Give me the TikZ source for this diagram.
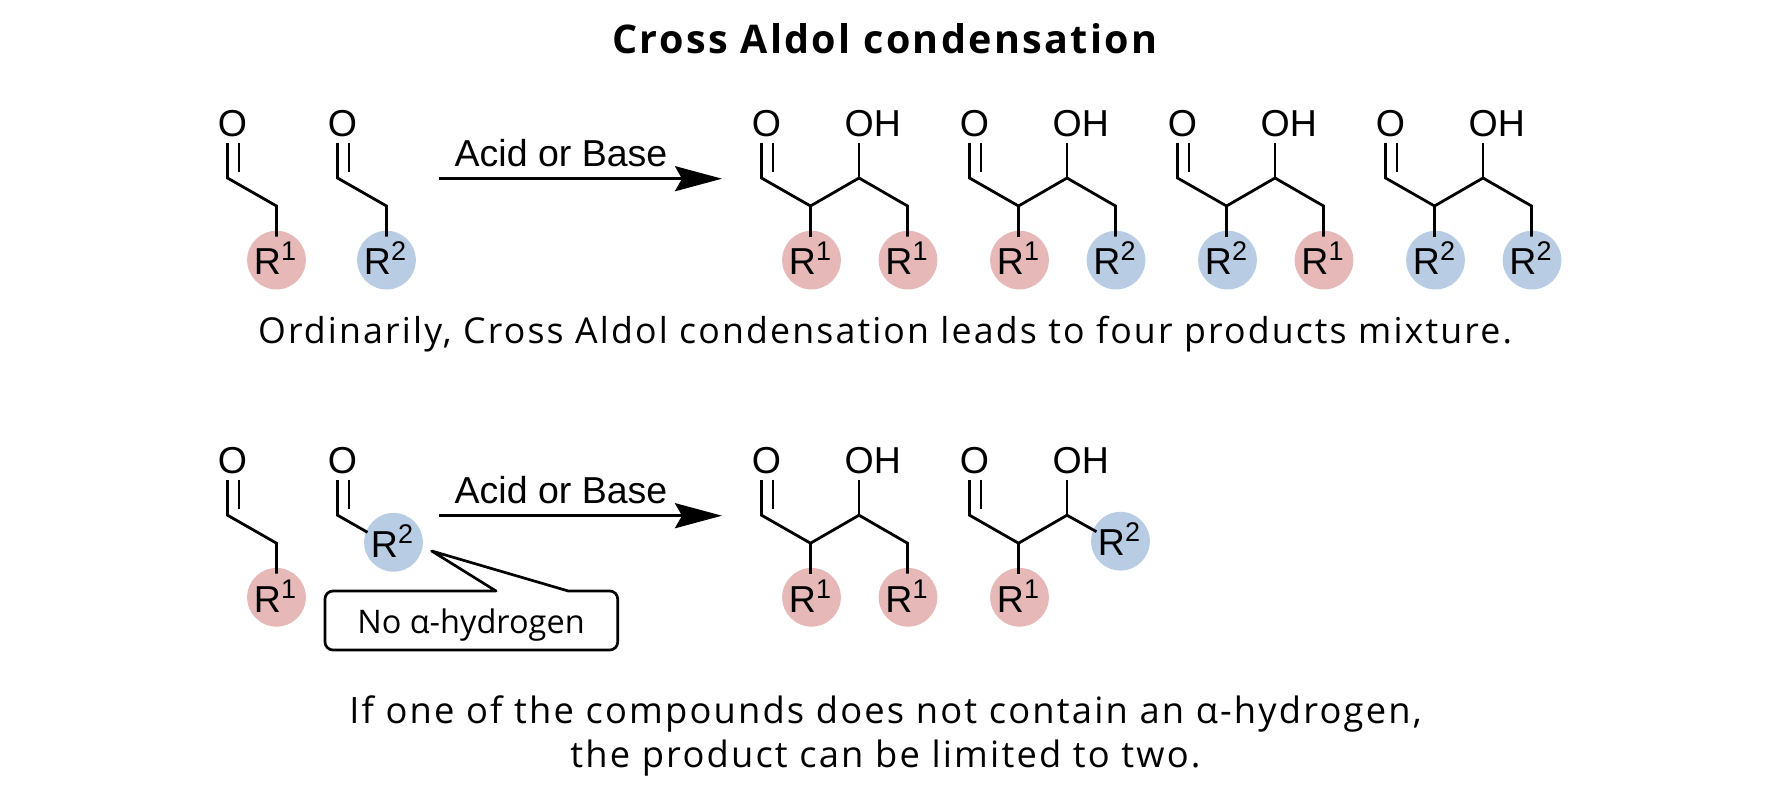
\documentclass[tikz,border=0pt]{standalone}
\usepackage{fontspec}
\usetikzlibrary{arrows.meta}
\setmainfont{Open Sans}
\newfontfamily\chemfont{Liberation Sans}
\newfontfamily\capfont[LetterSpace=6]{Open Sans}
\definecolor{redR}{HTML}{E6B8B7}
\definecolor{blueR}{HTML}{B8CCE4}
\newcommand{\chemtext}{\chemfont\fontsize{37.5}{40}\selectfont}
\newcommand{\Rsub}[1]{R\raisebox{14pt}{\fontsize{27}{27}\selectfont #1}\kern3pt}
\tikzset{
  bond/.style={line width=2.8pt,line join=miter},
  atom/.style={inner sep=0pt,font=\chemtext},
  Rone/.style={circle,fill=redR,minimum size=58.7pt,inner sep=0pt,font=\chemtext,text height=29.5pt,text depth=0pt,node contents={\Rsub{1}}},
  Rtwo/.style={circle,fill=blueR,minimum size=58.7pt,inner sep=0pt,font=\chemtext,text height=29.5pt,text depth=0pt,node contents={\Rsub{2}}},
  caption/.style={inner sep=0pt,anchor=base,align=center,font=\capfont\fontsize{36.3}{45}\selectfont},
}
\begin{document}
\begin{tikzpicture}[x=1pt,y=-1pt]
\useasboundingbox (0,0) rectangle (1772,798);

\node[inner sep=0pt,anchor=base,font=\capfont\bfseries\fontsize{39.5}{44}\selectfont] (title) at (885,53.5) {Cross Aldol condensation};

% top row, reactants
\foreach \px/\st/\n in {232.5/Rone/a,342.5/Rtwo/b} {
\begin{scope}[shift={(\px,123.5)}]
  \node (\n R) at (44,136.6) [\st];
  \node[atom] (\n O) at (0,0) {O};
  \coordinate (\n d) at (-5,19.5);
  \coordinate (\n e) at (6.5,19.5);
  \coordinate (\n f) at (6.5,48.5);
  \coordinate (\n c) at (-5,54.5);
  \coordinate (\n g) at (44,82.5);
  \coordinate (\n h) at (44,113);
  \draw[bond] (\n d) -- (\n c) -- (\n g) -- (\n h);
  \draw[bond] (\n e) -- (\n f);
\end{scope}
}
% top row, four products
\foreach \px/\sta/\stb/\n in {766.5/Rone/Rone/p,974.5/Rone/Rtwo/q,1182.5/Rtwo/Rone/r,1390.5/Rtwo/Rtwo/s} {
\begin{scope}[shift={(\px,123.5)}]
  \node (\n Ra) at (45,136.6) [\sta];
  \node (\n Rb) at (141.5,136.6) [\stb];
  \node[atom] (\n O) at (0,0) {O};
  \node[atom,anchor=west] (\n OH) at (78,0) {OH};
  \coordinate (\n d) at (-5,19.5);
  \coordinate (\n e) at (6.5,19.5);
  \coordinate (\n f) at (6.5,48.5);
  \coordinate (\n c) at (-5,54.5);
  \coordinate (\n g) at (44,82.5);
  \coordinate (\n h) at (44,113);
  \coordinate (\n i) at (92.5,54.5);
  \coordinate (\n j) at (92.5,19.5);
  \coordinate (\n k) at (141,82.5);
  \coordinate (\n l) at (141,113);
  \draw[bond] (\n d) -- (\n c) -- (\n g) -- (\n i) -- (\n k) -- (\n l);
  \draw[bond] (\n e) -- (\n f);
  \draw[bond] (\n g) -- (\n h);
  \draw[bond] (\n i) -- (\n j);
\end{scope}
}

% bottom row, reactants
\begin{scope}[shift={(232.5,460.7)}]
  \node (cR) at (44,136.6) [Rone];
  \node[atom] (cO) at (0,0) {O};
  \coordinate (cd) at (-5,19.5);
  \coordinate (ce) at (6.5,19.5);
  \coordinate (cf) at (6.5,48.5);
  \coordinate (cc) at (-5,54.5);
  \coordinate (cg) at (44,82.5);
  \coordinate (ch) at (44,113);
  \draw[bond] (cd) -- (cc) -- (cg) -- (ch);
  \draw[bond] (ce) -- (cf);
\end{scope}
\begin{scope}[shift={(342.5,460.7)}]
  \node (dR) at (51,81.6) [Rtwo];
  \node[atom] (dO) at (0,0) {O};
  \coordinate (dd) at (-5,19.5);
  \coordinate (de) at (6.5,19.5);
  \coordinate (df) at (6.5,48.5);
  \coordinate (dc) at (-5,54.5);
  \coordinate (dg) at (25,71.6);
  \draw[bond] (dd) -- (dc) -- (dg);
  \draw[bond] (de) -- (df);
\end{scope}
% bottom row, two products
\begin{scope}[shift={(766.5,460.7)}]
  \node (tRa) at (45,136.6) [Rone];
  \node (tRb) at (141.5,136.6) [Rone];
  \node[atom] (tO) at (0,0) {O};
  \node[atom,anchor=west] (tOH) at (78,0) {OH};
  \coordinate (td) at (-5,19.5);
  \coordinate (te) at (6.5,19.5);
  \coordinate (tf) at (6.5,48.5);
  \coordinate (tc) at (-5,54.5);
  \coordinate (tg) at (44,82.5);
  \coordinate (th) at (44,113);
  \coordinate (ti) at (92.5,54.5);
  \coordinate (tj) at (92.5,19.5);
  \coordinate (tk) at (141,82.5);
  \coordinate (tl) at (141,113);
  \draw[bond] (td) -- (tc) -- (tg) -- (ti) -- (tk) -- (tl);
  \draw[bond] (te) -- (tf);
  \draw[bond] (tg) -- (th);
  \draw[bond] (ti) -- (tj);
\end{scope}
\begin{scope}[shift={(974.5,460.7)}]
  \node (uRa) at (45,136.6) [Rone];
  \node (uRb) at (146,80.5) [Rtwo];
  \node[atom] (uO) at (0,0) {O};
  \node[atom,anchor=west] (uOH) at (78,0) {OH};
  \coordinate (ud) at (-5,19.5);
  \coordinate (ue) at (6.5,19.5);
  \coordinate (uf) at (6.5,48.5);
  \coordinate (uc) at (-5,54.5);
  \coordinate (ug) at (44,82.5);
  \coordinate (uh) at (44,113);
  \coordinate (ui) at (92.5,54.5);
  \coordinate (uj) at (92.5,19.5);
  \coordinate (uk) at (122,71);
  \draw[bond] (ud) -- (uc) -- (ug) -- (ui) -- (uk);
  \draw[bond] (ue) -- (uf);
  \draw[bond] (ug) -- (uh);
  \draw[bond] (ui) -- (uj);
\end{scope}

% arrows
\foreach \ay/\n in {178.7/upper,515.7/lower} {
  \coordinate (\n a) at (439,\ay);
  \coordinate (\n b) at (722,\ay);
  \draw[line width=3pt,-{Stealth[length=47pt,width=25pt,inset=7pt]}] (\n a) -- (\n b);
  \node[inner sep=0pt,anchor=base,font=\chemtext] (\n label) at (561,\ay-12.5) {Acid or Base};
}

% callout
\draw[line width=2.7pt,line join=round,rounded corners=0pt,fill=white]
  (431.7,551) -- (568.3,591) [rounded corners=8pt] -- (617.7,591) -- (617.7,650) -- (325,650) -- (325,591) [rounded corners=0pt] -- (496,591) -- cycle;
\node[inner sep=0pt,anchor=base,font=\fontsize{32.5}{36}\selectfont] (note) at (471,633) {No α-hydrogen};

\node[caption,font=\capfont\fontsize{35.7}{45}\selectfont] (first) at (885,343) {Ordinarily, Cross Aldol condensation leads to four products mixture.};
\node[caption] (second) at (885.5,723) {If one of the compounds does not contain an α-hydrogen,};
\node[caption] (third) at (885.5,767) {the product can be limited to two.};
\end{tikzpicture}
\end{document}
